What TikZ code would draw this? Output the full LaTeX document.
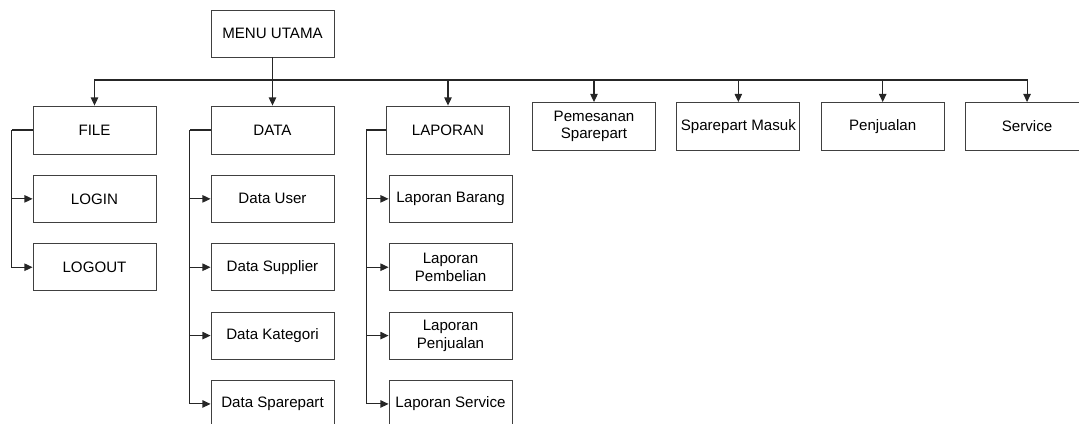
\documentclass[tikz,border=0pt]{standalone}
\usepackage{fontspec}
\setmainfont{Liberation Sans}
\usetikzlibrary{arrows.meta, positioning}
\tikzset{
    menubox/.style={rectangle, draw=black!75, line width=0.5pt, fill=white, minimum width=2.46cm, minimum height=0.94cm, align=center, inner sep=1pt, font=\fontsize{8.6}{10}\selectfont},
    topbox/.style={menubox, minimum height=0.96cm},
    link/.style={line width=0.6pt, draw=black!85},
    arrow/.style={link, -{Triangle[length=4.6pt, width=4.2pt]}}
}

\begin{document}
\begin{tikzpicture}[x=0.02cm, y=-0.02cm, node distance=0.41cm]
    \useasboundingbox (0,0) rectangle (1079,423);

    \node (menu) [menubox] at (272.5,33.5) {MENU UTAMA};
    \node (file) [topbox] at (94.5,130) {FILE};
    \node (data) [topbox] at (272.5,130) {DATA};
    \node (laporan) [topbox] at (448,130) {LAPORAN};
    \node (pesan) [topbox] at (594,126.5) {Pemesanan\\Sparepart};
    \node (masuk) [topbox, right=of pesan] {Sparepart Masuk};
    \node (jual) [topbox, right=of masuk] {Penjualan};
    \node (service) [topbox, right=of jual] {Service};

    \node (login) [menubox, below=of file] {LOGIN};
    \node (logout) [menubox, below=of login] {LOGOUT};

    \node (user) [menubox, below=of data] {Data User};
    \node (supplier) [menubox, below=of user] {Data Supplier};
    \node (kategori) [menubox, below=of supplier] {Data Kategori};
    \node (sparepart) [menubox, below=of kategori] {Data Sparepart};

    \node (lapbarang) [menubox, below=of laporan, xshift=0.05cm] {Laporan Barang};
    \node (lapbeli) [menubox, below=of lapbarang] {Laporan\\Pembelian};
    \node (lapjual) [menubox, below=of lapbeli] {Laporan\\Penjualan};
    \node (lapservice) [menubox, below=of lapjual] {Laporan Service};

    \coordinate (bus) at (272.5,80);
    \draw[link] (menu) -- (bus);
    \foreach \n in {file,data,laporan,pesan,masuk,jual,service}
        \draw[arrow] (bus) -| (\n);

    \coordinate (filebr) at ([xshift=-0.42cm]file.west);
    \draw[link] (file.west) -- (filebr);
    \foreach \c in {login,logout}
        \draw[arrow] (filebr) |- (\c);

    \coordinate (databr) at ([xshift=-0.42cm]data.west);
    \draw[link] (data.west) -- (databr);
    \foreach \c in {user,supplier,kategori,sparepart}
        \draw[arrow] (databr) |- (\c);

    \coordinate (lapbr) at ([xshift=-0.4cm]laporan.west);
    \draw[link] (laporan.west) -- (lapbr);
    \foreach \c in {lapbarang,lapbeli,lapjual,lapservice}
        \draw[arrow] (lapbr) |- (\c);
\end{tikzpicture}
\end{document}
